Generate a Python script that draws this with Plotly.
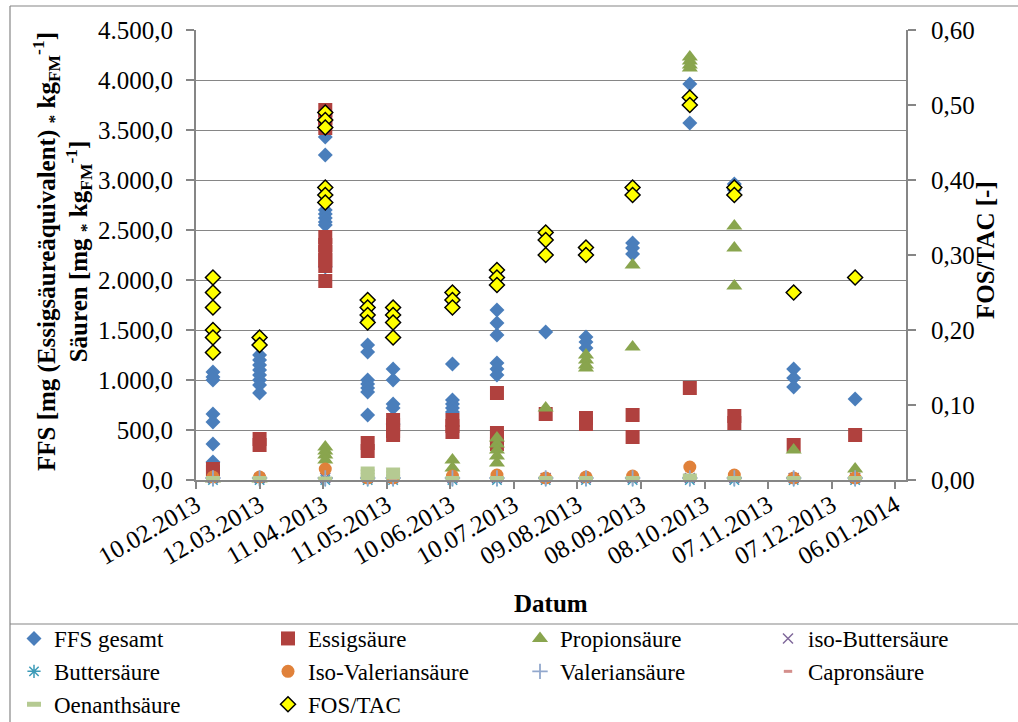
import plotly.graph_objects as go

# ---------------- data ----------------
dates = ["2013-02-18", "2013-03-12", "2013-04-12", "2013-05-02", "2013-05-14",
         "2013-06-11", "2013-07-02", "2013-07-25", "2013-08-13", "2013-09-04",
         "2013-10-01", "2013-10-22", "2013-11-19", "2013-12-18"]

ffs_gesamt = [[1080, 1030, 1000, 660, 580, 360, 180],
              [1250, 1200, 1150, 1100, 1050, 1000, 950, 870],
              [3430, 3250, 2700, 2660, 2620, 2580, 2550, 2130],
              [1600, 1350, 1280, 1000, 960, 920, 880, 650],
              [1110, 1000, 760, 720, 560],
              [1160, 800, 760, 720, 680],
              [1700, 1570, 1450, 1170, 1110, 1050],
              [1480],
              [1430, 1380, 1320],
              [2370, 2320, 2260],
              [3960, 3570],
              [2960, 2900, 2850],
              [1110, 1020, 930],
              [810]]

essigsaeure = [[110, 80], [410, 350],
               [3700, 3620, 3520, 2430, 2350, 2280, 2200, 2140, 1990],
               [370, 290], [600, 550, 490, 450], [600, 540, 480],
               [870, 470, 420, 360], [660], [620, 560], [650, 430],
               [920], [640, 570], [350], [450]]

propionsaeure = [[10], [10], [330, 290, 250, 200], [20], [20], [200, 120],
                 [420, 360, 300, 240, 170], [720], [1250, 1200, 1150, 1120],
                 [2150, 1330], [4230, 4190, 4150, 4120], [2540, 2320, 1940],
                 [300], [110]]

iso_buttersaeure = [[20], [20], [20], [20], [20], [20], [20], [20], [20], [20], [20], [20], [20], [20]]
buttersaeure = [[0], [0], [0], [0], [0], [0], [0], [0], [0], [0], [0], [0], [0], [0]]
iso_valeriansaeure = [[30], [30], [110], [20], [20], [40], [50], [20], [30], [40], [130], [50], [20], [20]]
valeriansaeure = [[20], [20], [20], [20], [20], [20], [20], [20], [20], [20], [20], [20], [20], [20]]
capronsaeure = [[10], [10], [10], [10], [10], [10], [10], [10], [10], [10], [10], [10], [10], [10]]
oenanthsaeure = [[15], [15], [10], [110, 80, 50, 20], [100, 60, 30], [15], [15], [15],
                 [15], [15], [40, 15], [15], [15], [15]]

fos_tac = [[0.27, 0.25, 0.23, 0.20, 0.19, 0.17], [0.19, 0.18],
           [0.49, 0.48, 0.47, 0.39, 0.38, 0.37], [0.24, 0.23, 0.22, 0.21],
           [0.23, 0.22, 0.21, 0.19], [0.25, 0.24, 0.23], [0.28, 0.27, 0.26],
           [0.33, 0.32, 0.30], [0.31, 0.30], [0.39, 0.38], [0.51, 0.50],
           [0.39, 0.38], [0.25], [0.27]]

series_names = ["FFS gesamt", "Essigsäure", "Propionsäure", "iso-Buttersäure",
                "Buttersäure", "Iso-Valeriansäure", "Valeriansäure", "Capronsäure",
                "Oenanthsäure", "FOS/TAC"]

# ---------------- geometry helpers ----------------
W, H = 1018, 722
L, R, T, B = 196, 906, 30, 480
def px(x):
    return (x - L) / (R - L)
def py(y):
    return (B - y) / (B - T)

FONT = "Liberation Serif"
GRAY = "#868686"

def expand(groups):
    xs, ys = [], []
    for d, vals in zip(dates, groups):
        for v in vals:
            xs.append(d)
            ys.append(v)
    return xs, ys

styles = [
    dict(symbol="diamond", size=11.5, color="#4A7EBB", line=dict(width=0)),
    dict(symbol="square", size=14, color="#B0413E", line=dict(width=0)),
    dict(symbol="triangle-up", size=14, color="#89A54E", line=dict(width=0)),
    dict(symbol="x-thin", size=10, color="#80699B", line=dict(width=1.5, color="#80699B")),
    dict(symbol="asterisk", size=11, color="#3D9BB8", line=dict(width=1.5, color="#3D9BB8")),
    dict(symbol="circle", size=13, color="#E0813A", line=dict(width=0)),
    dict(symbol="cross-thin", size=11, color="#92A8CD", line=dict(width=1.8, color="#92A8CD")),
    dict(symbol="line-ew", size=6, color="#D48F8C", line=dict(width=3, color="#D48F8C")),
    dict(symbol="line-ew", size=10, color="#B5CA92", line=dict(width=5, color="#B5CA92")),
    dict(symbol="diamond", size=11.5, color="#FFFF00", line=dict(width=1.5, color="#000000")),
]

data_series = [ffs_gesamt, essigsaeure, propionsaeure, iso_buttersaeure, buttersaeure,
               iso_valeriansaeure, valeriansaeure, capronsaeure, oenanthsaeure, fos_tac]

legend_ids = ["legend", "legend2", "legend3", "legend4"]

fig = go.Figure()
for i, (name, groups, st) in enumerate(zip(series_names, data_series, styles)):
    xs, ys = expand(groups)
    fig.add_trace(go.Scatter(
        x=xs, y=ys, mode="markers", name=name, marker=st,
        yaxis="y2" if name == "FOS/TAC" else "y",
        legend=legend_ids[i % 4], cliponaxis=False,
    ))

col_left = [14, 268, 520, 768]
legend_top = 617
leg_common = dict(orientation="v", xanchor="left", yanchor="top",
                  bgcolor="rgba(0,0,0,0)", borderwidth=0,
                  font=dict(family=FONT, size=23, color="black"),
                  tracegroupgap=0, itemsizing="trace")
legends = {}
for k, lid in enumerate(legend_ids):
    legends[lid] = dict(x=px(col_left[k]), y=py(legend_top), **leg_common)

shapes = [
    dict(type="line", xref="paper", yref="paper", x0=px(10), x1=px(1030), y0=py(6), y1=py(6),
         line=dict(color=GRAY, width=1.2)),
    dict(type="line", xref="paper", yref="paper", x0=px(10), x1=px(10), y0=py(6), y1=py(730),
         line=dict(color=GRAY, width=1.2)),
    dict(type="line", xref="paper", yref="paper", x0=px(10), x1=px(1030), y0=py(624), y1=py(624),
         line=dict(color=GRAY, width=1.2)),
]

annotations = [
    dict(text="<b>FFS [mg (Essigsäureäquivalent) <sub>*</sub> kg<sub>FM</sub><sup>-1</sup>]<br>"
              "Säuren [mg <sub>*</sub> kg<sub>FM</sub><sup>-1</sup>]</b>",
         xref="paper", yref="paper", x=px(62), y=py(252), textangle=-90,
         xanchor="center", yanchor="middle", showarrow=False,
         font=dict(family=FONT, size=25, color="black")),
    dict(text="<b>FOS/TAC [-]</b>", xref="paper", yref="paper", x=px(985), y=py(250),
         textangle=-90, xanchor="center", yanchor="middle", showarrow=False,
         font=dict(family=FONT, size=25, color="black")),
    dict(text="<b>Datum</b>", xref="paper", yref="paper", x=px(551), y=py(603),
         xanchor="center", yanchor="middle", showarrow=False,
         font=dict(family=FONT, size=25, color="black")),
]

fig.update_layout(
    width=W, height=H,
    margin=dict(l=L, r=W - R, t=T, b=H - B, autoexpand=False),
    paper_bgcolor="white", plot_bgcolor="white",
    separators=",.",
    font=dict(family=FONT, size=25, color="black"),
    showlegend=True,
    shapes=shapes, annotations=annotations,
    xaxis=dict(type="date", range=["2013-02-10", "2014-01-11"],
               tick0="2013-02-10", dtick=30 * 86400000, tickformat="%d.%m.%Y",
               tickangle=-30, ticks="outside", ticklen=7, tickwidth=1.5, tickcolor=GRAY,
               ticklabelstandoff=-8,
               showline=True, linecolor=GRAY, linewidth=2, showgrid=False, zeroline=False,
               tickfont=dict(family=FONT, size=25, color="black")),
    yaxis=dict(range=[0, 4500], dtick=500, tickformat=",.1f",
               ticks="outside", ticklen=8, tickwidth=1.5, tickcolor=GRAY, ticklabelstandoff=8,
               showline=True, linecolor=GRAY, linewidth=2,
               showgrid=True, gridcolor=GRAY, gridwidth=1.2, zeroline=False,
               tickfont=dict(family=FONT, size=25, color="black")),
    yaxis2=dict(range=[0, 0.6], dtick=0.1, tickformat=".2f", overlaying="y", side="right",
                ticks="outside", ticklen=8, tickwidth=1.5, tickcolor=GRAY, ticklabelstandoff=10,
                showline=True, linecolor=GRAY, linewidth=2, showgrid=False, zeroline=False,
                tickfont=dict(family=FONT, size=25, color="black")),
    **legends,
)

fig.write_html("out.html", config={"displayModeBar": False},
               post_script="document.body.style.margin='0';")
